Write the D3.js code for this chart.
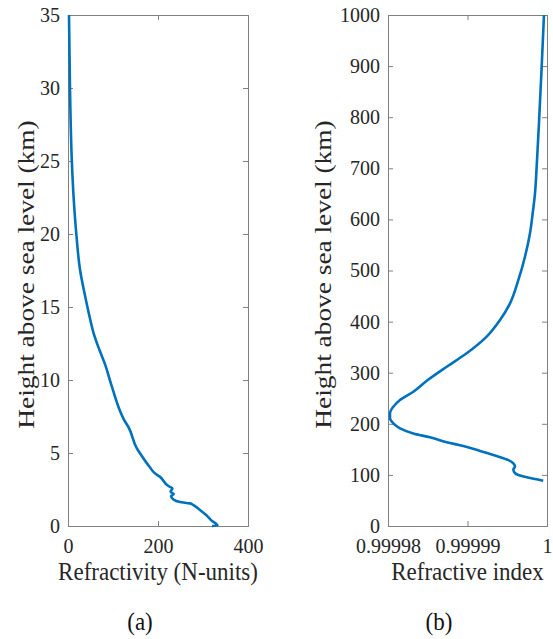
<!DOCTYPE html>
<html>
<head>
<meta charset="utf-8">
<script src="https://cdn.jsdelivr.net/npm/d3@7"></script>
<style>
  body { margin: 0; background: #fff; }
  text { font-family: "Liberation Serif", "Times New Roman", serif; }
</style>
</head>
<body>
<script>
// (a) refractivity profile: height (km) and N-units
var refrHeight = [0, 0.03, 0.4, 0.75, 1.1, 1.44, 1.55, 1.64, 1.82, 2.05, 2.19, 2.35, 2.58, 2.74,
    3.38, 3.61, 4.02, 4.98, 5.32, 6.8, 7.14, 8.17, 9.3, 10.0, 11.1, 12.05, 13.2, 14.6, 15.9,
    17.5, 20.0, 22.5, 25.0, 30.0, 35.0];
var refrN = [320, 332, 318, 307, 293, 278, 271, 249, 234, 229, 235, 228, 232, 223,
    204, 193, 182, 160, 153, 134, 127, 112, 100, 93, 82, 70, 57, 46, 37,
    27, 18.5, 12.5, 8.5, 4.4, 2.2];

// (b) refractive index profile: height (km) and n
var idxHeight = [88.6, 91.4, 95.3, 99.8, 106, 111, 116, 122.7, 129, 137, 147, 156.5, 164, 173.5,
    181, 191, 201, 210.8, 220.5, 233.5, 246.6, 262.8, 285.7, 311.7, 338, 370.5, 403, 435.8,
    481, 527, 572.8, 612, 651, 703, 801, 899, 1000];
var idxN = [0.99999953, 0.9999987, 0.99999745, 0.99999639, 0.99999585, 0.99999577, 0.99999597,
    0.99999577, 0.99999514, 0.99999367, 0.99999157, 0.99998948, 0.99998738, 0.99998528,
    0.99998319, 0.99998151, 0.99998067, 0.99998025, 0.99998025, 0.99998067, 0.99998151,
    0.99998319, 0.999985, 0.99998738, 0.9999899, 0.99999241, 0.99999409, 0.99999535,
    0.99999639, 0.99999723, 0.99999786, 0.9999982, 0.99999849, 0.9999987, 0.99999903,
    0.99999933, 0.99999962];

var aYTicks = [0, 5, 10, 15, 20, 25, 30, 35];
var aXTicks = [0, 200, 400];
var bYTicks = [0, 100, 200, 300, 400, 500, 600, 700, 800, 900, 1000];
var bXTicks = [0.99998, 0.99999, 1];
var bXLabels = ["0.99998", "0.99999", "1"];

var w = 553, h = 639;
var lineColor = "#0072BD";
var axisColor = "#808080";
var textColor = "#262626";

var svg = d3.select("body").append("svg")
    .attr("width", w)
    .attr("height", h);

function drawPanel(opt) {
    var x = d3.scaleLinear().domain(opt.xDomain).range([opt.left, opt.right]);
    var y = d3.scaleLinear().domain(opt.yDomain).range([opt.bottom, opt.top]);

    var g = svg.append("g");

    // box with inward ticks on all four sides
    var bottomAxis = d3.axisBottom(x).tickValues(opt.xTicks).tickSize(-5).tickPadding(13)
        .tickFormat(function (d, i) { return opt.xLabels[i]; });
    var topAxis = d3.axisTop(x).tickValues(opt.xTicks).tickSize(-5).tickFormat("");
    var leftAxis = d3.axisLeft(y).tickValues(opt.yTicks).tickSize(-5).tickPadding(8)
        .tickFormat(function (d) { return d; });
    var rightAxis = d3.axisRight(y).tickValues(opt.yTicks).tickSize(-5).tickFormat("");

    g.append("g").attr("transform", "translate(0," + opt.bottom + ")").call(bottomAxis);
    g.append("g").attr("transform", "translate(0," + opt.top + ")").call(topAxis);
    g.append("g").attr("transform", "translate(" + opt.left + ",0)").call(leftAxis);
    g.append("g").attr("transform", "translate(" + opt.right + ",0)").call(rightAxis);

    g.selectAll(".domain").attr("stroke", axisColor).attr("stroke-width", 1);
    g.selectAll(".tick line").attr("stroke", axisColor);
    g.selectAll(".tick text")
        .attr("fill", textColor)
        .style("font-family", "'Liberation Serif', serif")
        .style("font-size", "20px");

    var line = d3.line()
        .x(function (d) { return x(d[0]); })
        .y(function (d) { return y(d[1]); })
        .curve(d3.curveMonotoneY);

    var pts = opt.xs.map(function (v, i) { return [v, opt.ys[i]]; });
    g.append("path")
        .datum(pts)
        .attr("fill", "none")
        .attr("stroke", lineColor)
        .attr("stroke-width", 2.6)
        .attr("stroke-linejoin", "round")
        .attr("d", line);

    g.append("text")
        .attr("transform", "translate(" + (opt.left + opt.right) / 2 + ",580) scale(1,1.08)")
        .attr("text-anchor", "middle")
        .attr("fill", textColor)
        .style("font-size", "23px")
        .text(opt.xTitle);

    // the source figure is stretched vertically, so the rotated title runs longer
    g.append("text")
        .attr("transform", "translate(" + opt.yTitleX + "," + ((opt.top + opt.bottom) / 2 + 4) + ") rotate(-90) scale(1.19,1)")
        .attr("text-anchor", "middle")
        .attr("dy", "0.35em")
        .attr("fill", textColor)
        .style("font-size", "23px")
        .text("Height above sea level (km)");

    g.append("text")
        .attr("transform", "translate(" + opt.capX + ",630) scale(1,1.08)")
        .attr("text-anchor", "middle")
        .attr("fill", "#111")
        .style("font-size", "23px")
        .text(opt.caption);
}

drawPanel({
    left: 68, right: 248, top: 15, bottom: 526,
    xDomain: [0, 400], yDomain: [0, 35],
    xTicks: aXTicks, xLabels: aXTicks.map(String), yTicks: aYTicks,
    xs: refrN, ys: refrHeight,
    xTitle: "Refractivity (N-units)", yTitleX: 26,
    caption: "(a)", capX: 140
});

drawPanel({
    left: 388, right: 547, top: 15, bottom: 526,
    xDomain: [0.99998, 1], yDomain: [0, 1000],
    xTicks: bXTicks, xLabels: bXLabels, yTicks: bYTicks,
    xs: idxN, ys: idxHeight,
    xTitle: "Refractive index", yTitleX: 323,
    caption: "(b)", capX: 439
});
</script>
</body>
</html>
